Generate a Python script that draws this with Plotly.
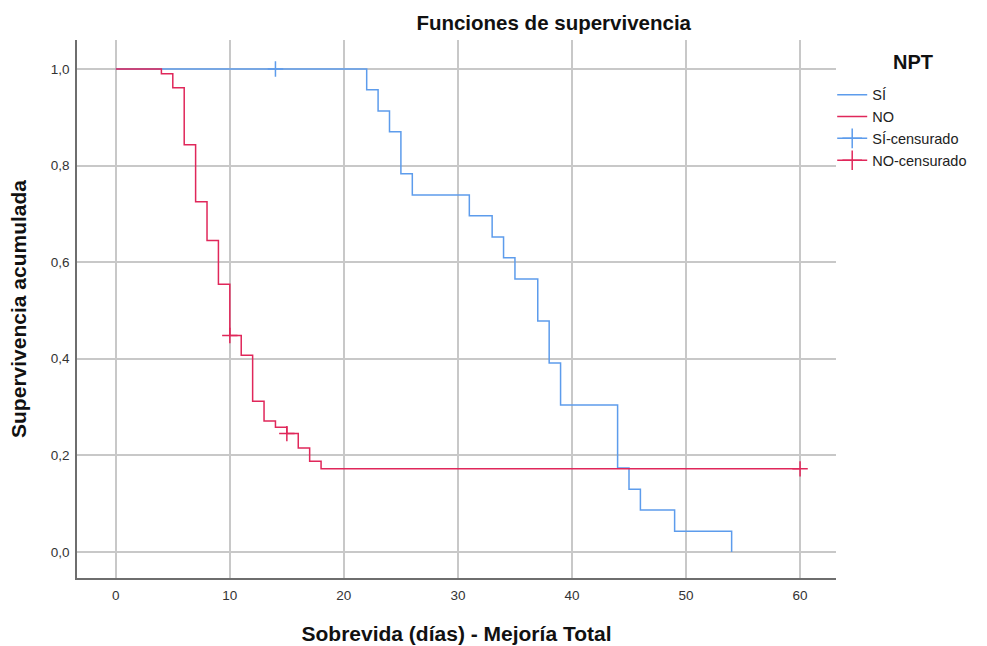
import plotly.graph_objects as go

# Data (Kaplan-Meier steps)
si_t = [0, 22, 23, 24, 25, 26, 31, 33, 34, 35, 37, 38, 39, 44, 45, 46, 49, 54]
si_s = [1.0, 0.957, 0.913, 0.870, 0.783, 0.739, 0.696, 0.652, 0.609, 0.565,
        0.478, 0.391, 0.304, 0.174, 0.130, 0.087, 0.043, 0.0]
no_t = [0, 4, 5, 6, 7, 8, 9, 10, 11, 12, 13, 14, 15, 16, 17, 18, 60]
no_s = [1.0, 0.990, 0.961, 0.843, 0.725, 0.645, 0.554, 0.448, 0.407, 0.312,
        0.271, 0.258, 0.245, 0.215, 0.188, 0.172, 0.172]
si_cens_t = [14]
si_cens_s = [1.0]
no_cens_t = [10, 15, 60]
no_cens_s = [0.448, 0.245, 0.172]

x_ticks = [0, 10, 20, 30, 40, 50, 60]
y_ticks = [0.0, 0.2, 0.4, 0.6, 0.8, 1.0]
y_ticktext = ["0,0", "0,2", "0,4", "0,6", "0,8", "1,0"]

BLUE = "#5d9cec"
RED = "#e0275a"
FONT = "Liberation Sans"

fig = go.Figure()
fig.add_trace(go.Scatter(x=si_t, y=si_s, mode="lines", line=dict(color=BLUE, width=1.5, shape="hv"),
                         name="SÍ"))
fig.add_trace(go.Scatter(x=no_t, y=no_s, mode="lines", line=dict(color=RED, width=1.5, shape="hv"),
                         name="NO"))
fig.add_trace(go.Scatter(x=si_cens_t, y=si_cens_s, mode="markers",
                         marker=dict(symbol="cross-thin", size=11, line=dict(color=BLUE, width=1.5)),
                         showlegend=False, name="SÍ-censurado"))
fig.add_trace(go.Scatter(x=no_cens_t, y=no_cens_s, mode="markers",
                         marker=dict(symbol="cross-thin", size=11, line=dict(color=RED, width=1.5)),
                         showlegend=False, name="NO-censurado"))
# legend entries for censored
fig.add_trace(go.Scatter(x=[None], y=[None], mode="lines+markers", name="SÍ-censurado",
                         line=dict(color=BLUE, width=1.5),
                         marker=dict(symbol="cross-thin", size=14, line=dict(color=BLUE, width=1.5))))
fig.add_trace(go.Scatter(x=[None], y=[None], mode="lines+markers", name="NO-censurado",
                         line=dict(color=RED, width=1.5),
                         marker=dict(symbol="cross-thin", size=14, line=dict(color=RED, width=1.5))))

fig.add_annotation(text="<b>NPT</b>", xref="paper", yref="paper", x=1.1015, y=0.959,
                   xanchor="center", yanchor="middle", showarrow=False,
                   font=dict(family=FONT, size=20, color="#111111"))

fig.update_layout(
    width=987, height=646,
    margin=dict(l=77, r=151, t=40, b=68),
    paper_bgcolor="white", plot_bgcolor="white",
    font=dict(family=FONT, color="#222222"),
    title=dict(text="<b>Funciones de supervivencia</b>", x=0.561, xanchor="center", y=0.964, yanchor="middle",
               font=dict(family=FONT, size=20.5, color="#111111")),
    showlegend=True,
    legend=dict(x=0.995, xanchor="left", y=0.928, yanchor="top",
                font=dict(family=FONT, size=14.5, color="#222222"),
                tracegroupgap=0, itemwidth=30, bgcolor="rgba(0,0,0,0)"),
    xaxis=dict(range=[-3.4, 63.15], tickvals=x_ticks, ticktext=[str(v) for v in x_ticks],
               showgrid=True, gridcolor="#c8c8c8", gridwidth=1.5, zeroline=False,
               showline=True, linecolor="#6e6e6e", linewidth=1.5, ticks="",
               ticklabelstandoff=4, automargin=False,
               tickfont=dict(family=FONT, size=13.5, color="#333333"),
               title=dict(text="<b>Sobrevida (días) - Mejoría Total</b>", standoff=24,
                          font=dict(family=FONT, size=21, color="#111111"))),
    yaxis=dict(range=[-0.054, 1.06], tickvals=y_ticks, ticktext=y_ticktext,
               showgrid=True, gridcolor="#c8c8c8", gridwidth=1.5, zeroline=False,
               showline=True, linecolor="#6e6e6e", linewidth=1.5, ticks="",
               ticklabelstandoff=3, automargin=False,
               tickfont=dict(family=FONT, size=13.5, color="#333333"),
               title=dict(text="<b>Supervivencia acumulada</b>", standoff=18,
                          font=dict(family=FONT, size=21, color="#111111"))),
)

fig.write_html("out.html")
